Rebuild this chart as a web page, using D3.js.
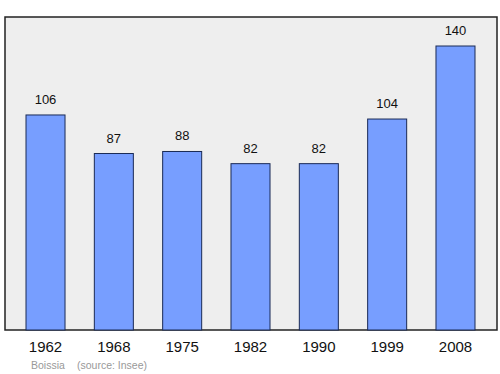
<!DOCTYPE html>
<html><head><meta charset="utf-8">
<script src="https://cdn.jsdelivr.net/npm/d3@7"></script>
<style>body{margin:0;background:#fff}svg{display:block}</style>
</head><body>
<script>
const years = ["1962","1968","1975","1982","1990","1999","2008"];
const population = [106, 87, 88, 82, 82, 104, 140];
const place = "Boissia";
const source = "(source: Insee)";

const W = 500, H = 374;
const frame = {x0: 5, x1: 497, y0: 17, y1: 330};
const svg = d3.select("body").append("svg").attr("width", W).attr("height", H);

svg.append("rect").attr("x", frame.x0).attr("y", frame.y0)
  .attr("width", frame.x1 - frame.x0).attr("height", frame.y1 - frame.y0)
  .attr("fill", "#eeeeee").attr("stroke", "#222").attr("stroke-width", 1.5);

const x = d3.scaleBand().domain(years).range([26, 475]).paddingInner(0.429).paddingOuter(0);
const y = d3.scaleLinear().domain([0, 140]).range([frame.y1, 46]);

svg.selectAll("rect.bar").data(years).join("rect").attr("class", "bar")
  .attr("x", d => x(d)).attr("width", x.bandwidth())
  .attr("y", (d, i) => y(population[i])).attr("height", (d, i) => frame.y1 - y(population[i]))
  .attr("fill", "#779eff").attr("stroke", "#1a2a55").attr("stroke-width", 1);

svg.selectAll("text.val").data(years).join("text").attr("class", "val")
  .attr("x", d => x(d) + x.bandwidth() / 2)
  .attr("y", (d, i) => y(population[i]) - 11)
  .attr("text-anchor", "middle").attr("font-family", "Liberation Sans, Arial, sans-serif")
  .attr("font-size", 13).attr("fill", "#111").text((d, i) => population[i]);

const xAxis = svg.append("g").attr("transform", `translate(0,${frame.y1})`)
  .call(d3.axisBottom(x).tickSize(0).tickPadding(11));
xAxis.select(".domain").remove();
xAxis.selectAll("text").attr("font-family", "Liberation Sans, Arial, sans-serif")
  .attr("font-size", 15).attr("fill", "#111");

svg.append("text").attr("x", 31).attr("y", 369).attr("font-family", "Liberation Sans, Arial, sans-serif")
  .attr("font-size", 10.5).attr("fill", "#999").text(place);
svg.append("text").attr("x", 77).attr("y", 369).attr("font-family", "Liberation Sans, Arial, sans-serif")
  .attr("font-size", 10.5).attr("fill", "#999").text(source);
</script>
</body></html>
